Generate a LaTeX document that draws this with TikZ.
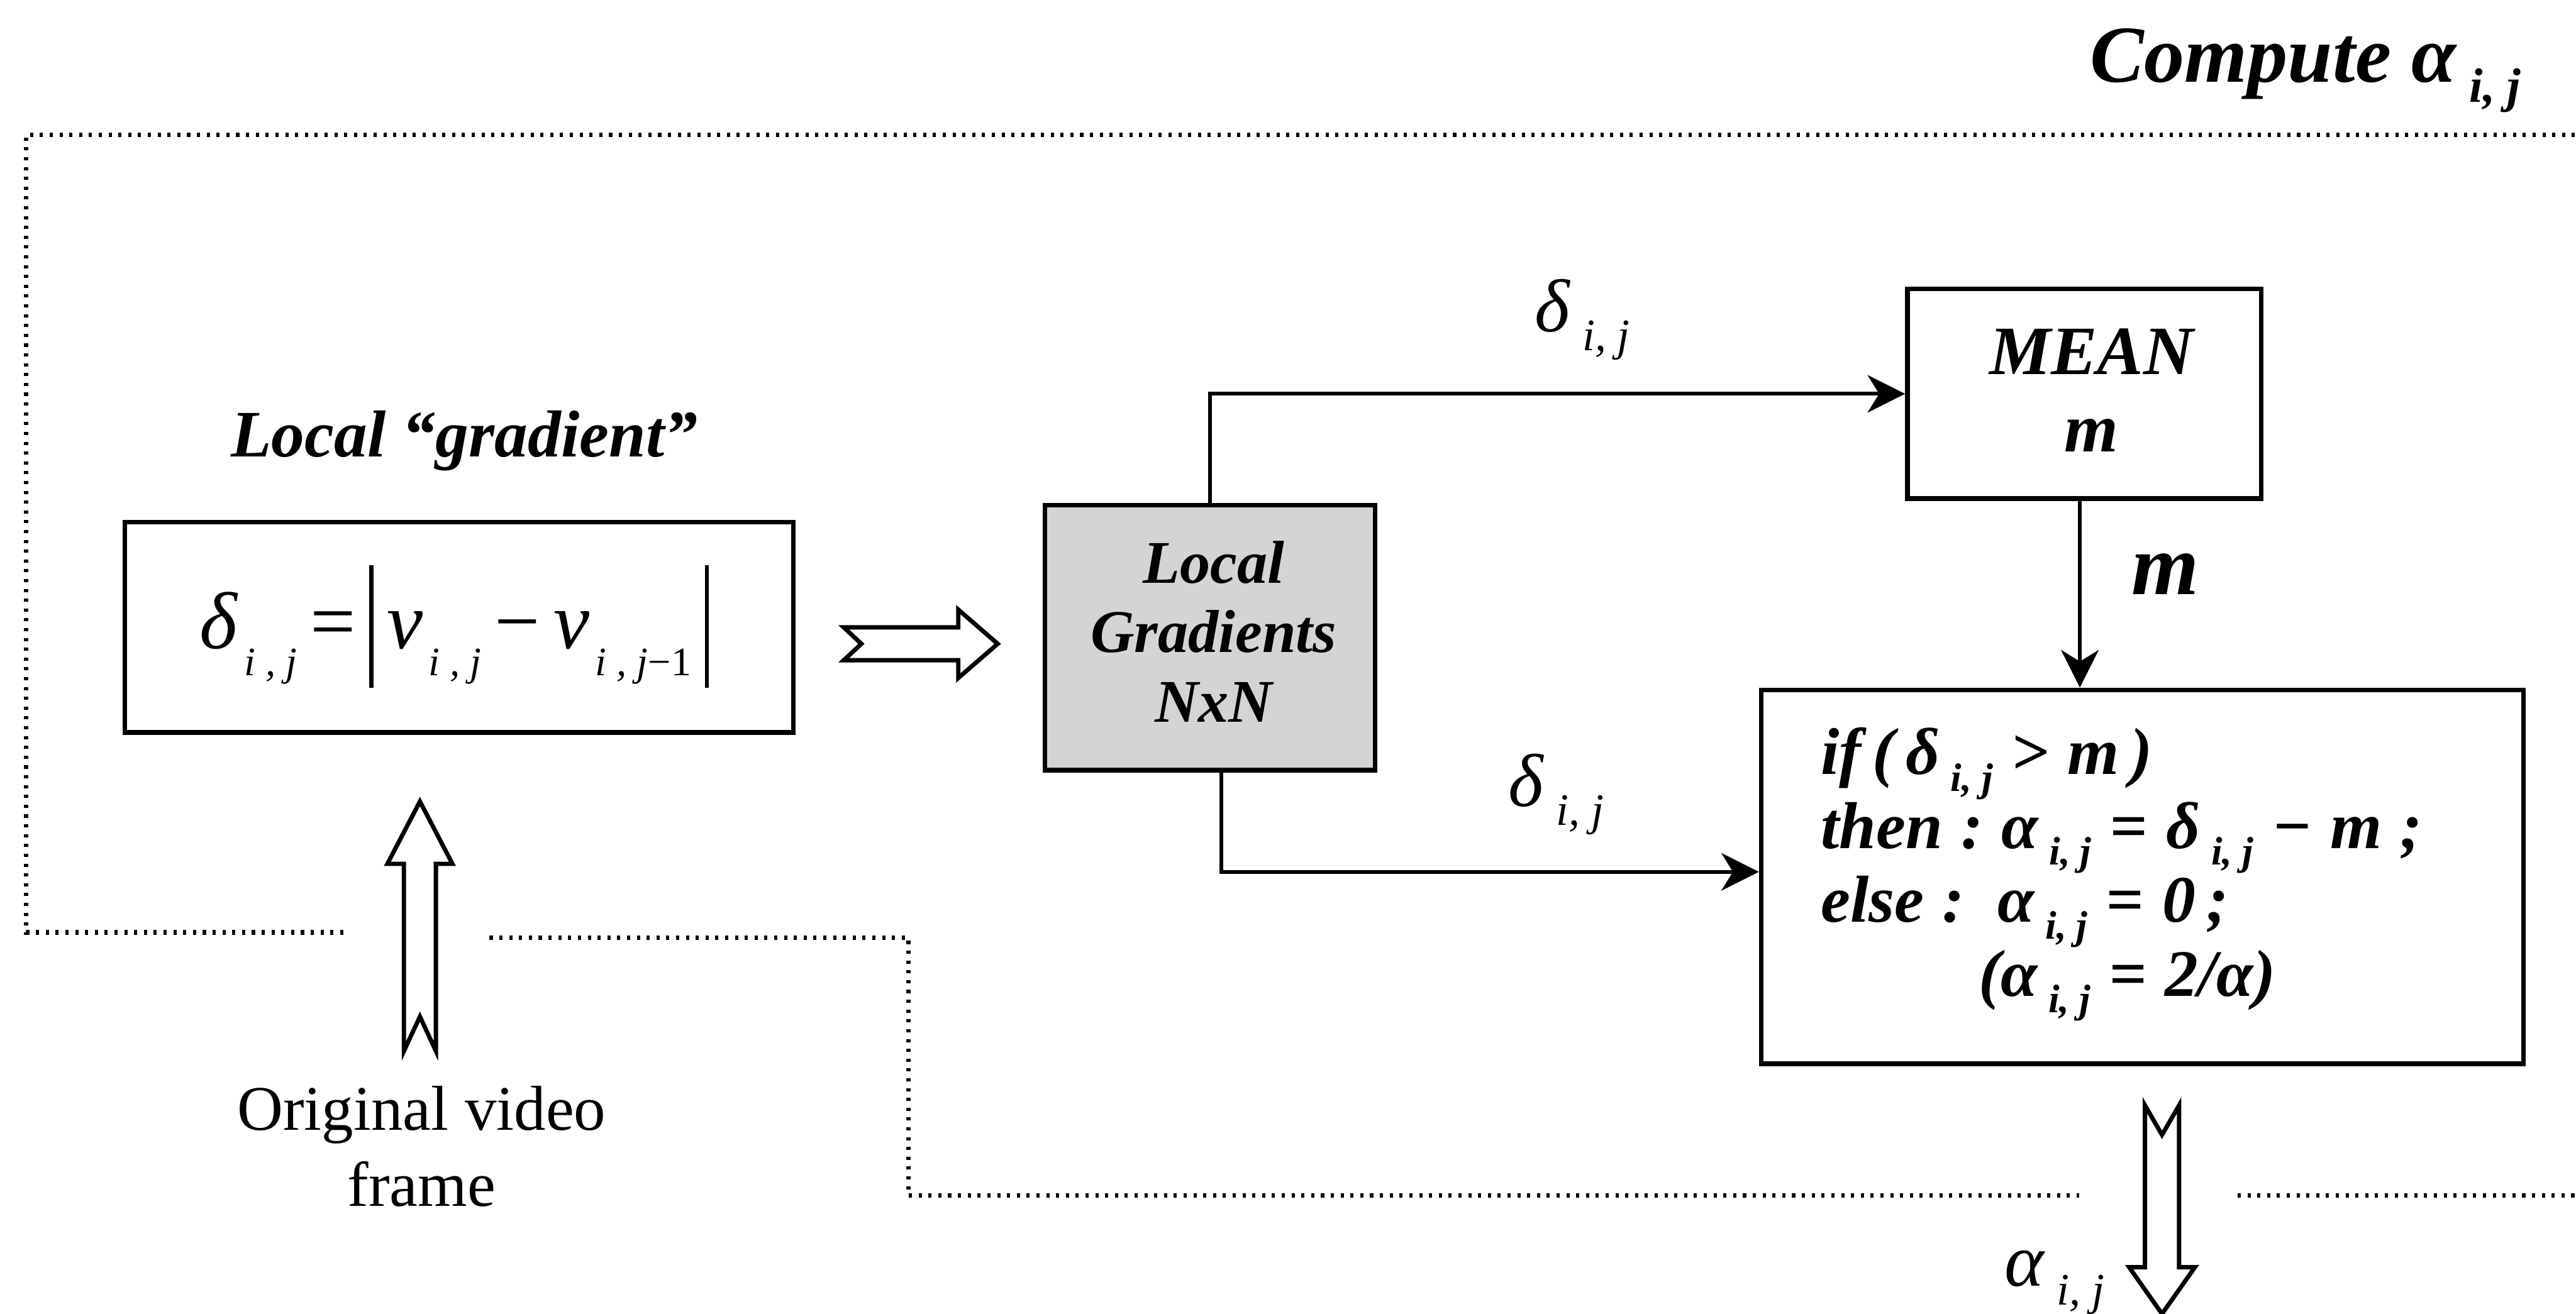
\documentclass[tikz,border=0pt]{standalone}
\usepackage{fontspec}
\setmainfont{Liberation Serif}
\usepackage{graphicx}
\usetikzlibrary{arrows.meta,calc}

% font size helper
\newcommand\fs[2]{\fontsize{#1}{#2}\selectfont}
% small lowered index, written apart from its base letter
\newcommand\idx[1]{\,\raisebox{-0.25em}{\scalebox{0.6}{#1}}}
% index used inside the boxed formula
\newcommand\fidx[1]{\hspace{2pt}\raisebox{-0.33em}{\scalebox{0.5}{#1}}}
% stacked lines (rows separated by \cr) whose baseline is the first line
\newcommand\linesc[1]{\vtop{\lineskiplimit=-\maxdimen\halign{\hfil##\hfil\cr#1\crcr}}}
\newcommand\linesl[1]{\vtop{\lineskiplimit=-\maxdimen\halign{##\hfil\cr#1\crcr}}}
% tall bar of the absolute value
\newcommand\absbar{\rule[-13.6pt]{1.4pt}{42.5pt}}

\definecolor{panelgray}{gray}{0.83}

\tikzset{
  box/.style={draw, line width=1.6pt, inner sep=0pt},
  flow/.style={line width=1.3pt, -{Stealth[length=13pt, width=13pt, inset=4pt]}},
  frameline/.style={line width=1.6pt, dash pattern=on 1.1pt off 2.3pt},
  hollowline/.style={draw, fill=white, line width=1.5pt, line join=miter},
  txt/.style={inner sep=0pt},
  % hollow block arrow pointing along +x:
  % length, shaft half width, head half width, head length, tail notch depth
  pics/hollow/.style n args={5}{code={%
    \path[hollowline] (0,#2) -- ({#1-#4},#2) -- ({#1-#4},#3) -- (#1,0)
      -- ({#1-#4},-#3) -- ({#1-#4},-#2) -- (0,-#2) -- (#5,0) -- cycle;}}
}

\begin{document}
\begin{tikzpicture}[x=0.02cm, y=-0.02cm]
  \fill[white] (0,0) rectangle (1568,800);
  \useasboundingbox (0,0) rectangle (1568,800);

  % ---- dotted frame of the "Compute alpha" stage ----
  \draw[frameline] (209,567.7) -- (16,567.7) -- (16,82) -- (1580,82);
  \draw[frameline] (298,571) -- (553,571) -- (553,728) -- (1265.5,728);
  \draw[frameline] (1362,728) -- (1580,728);

  \node[txt, anchor=base west, font={\fs{28}{32}\bfseries\itshape}] (title)
    at (1272,50) {Compute α\idx{i, j}};

  % ---- local gradient ----
  \node[txt, anchor=base, font={\fs{23}{26}\bfseries\itshape}] (gradlbl)
    at (282.6,278) {Local “gradient”};
  \node[box, minimum width=8.14cm, minimum height=2.56cm] (grad) at (279.5,382) {};
  \node[txt, anchor=base, font={\fs{28}{32}}] (gradfrm) at (276.5,395)
    {\textit{δ}\fidx{\textit{i , j}}\,=\,\absbar\,\textit{v}\fidx{\textit{i , j}}\,−\,\textit{v}\fidx{\textit{i , j}−1}\,\absbar};

  \node[txt, anchor=base, font={\fs{22}{26.5}}] (video) at (256.6,688)
    {\linesc{Original video\cr frame}};

  % ---- local gradients NxN ----
  \node[box, fill=panelgray, minimum width=4.02cm, minimum height=3.23cm] (lgrad)
    at (736.5,388.25) {};
  \node[txt, anchor=base, font={\fs{21}{24.1}\bfseries\itshape}] (lgradtxt)
    at (738.75,355) {\linesc{Local\cr Gradients\cr NxN}};

  % ---- mean ----
  \node[box, minimum width=4.31cm, minimum height=2.552cm] (mean) at (1268.75,239.8) {};
  \node[txt, anchor=base, font={\fs{24}{26.8}\bfseries\itshape}] (meantxt)
    at (1273,227.8) {\linesc{MEAN\cr m}};

  % ---- thresholding ----
  \node[box, minimum width=9.28cm, minimum height=4.554cm] (cond) at (1304,533.85) {};
  \node[txt, anchor=base west, font={\fs{23}{25.6}\bfseries\itshape}] (condtxt)
    at (1108,471.5) {\linesl{%
      if\,(\,δ\idx{i, j}\;>\;m\,)\cr
      then\;:\;α\idx{i, j}\;=\;δ\idx{i, j}\;−\;m\;;\cr
      else\;:\ \ α\idx{i, j}\;=\;0\,;\cr
      \hspace{1.92cm}(α\idx{i, j}\;=\;2/α)}};

  % ---- connectors ----
  \coordinate (mfoot) at ($(mean.south)+(-2.75,0)$);
  \draw[flow] (lgrad.north) |- (mean.west);
  \draw[flow] ($(lgrad.south)+(7,0)$) |- ($(cond.west)+(0,-3)$);
  \draw[flow] (mfoot) -- (mfoot |- cond.north);

  \node[txt, anchor=base west, font={\fs{26}{30}\itshape}] (dtop) at (934,202) {δ\idx{i, j}};
  \node[txt, anchor=base west, font={\fs{26}{30}\itshape}] (dbot) at (918,491) {δ\idx{i, j}};
  \node[txt, anchor=base west, font={\fs{30}{34}\bfseries\itshape}] (mlbl) at (1297,362) {m};

  % ---- block arrows ----
  \pic at (513.6,392) {hollow={93.7}{10}{20.8}{24}{10.7}};
  \pic[rotate=90] at (255.6,640) {hollow={152}{9.75}{19.8}{38}{21}};
  \pic[rotate=-90] at (1316,673) {hollow={127}{10.4}{20}{28.4}{18}};

  \node[txt, anchor=base west, font={\fs{26}{30}\itshape}] (alpha) at (1220,783) {α\idx{i, j}};
\end{tikzpicture}
\end{document}
